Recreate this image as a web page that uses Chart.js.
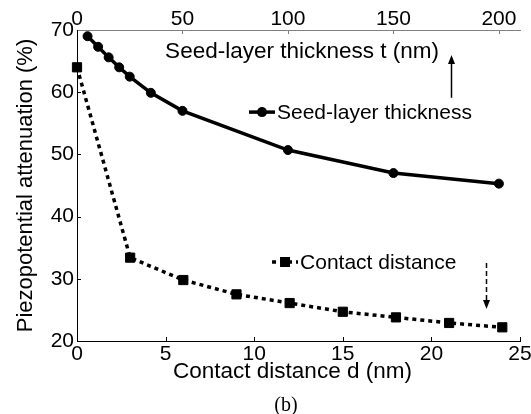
<!DOCTYPE html>
<html lang="en">
<head>
<meta charset="UTF-8">
<title>Piezopotential attenuation</title>
<script src="https://cdn.jsdelivr.net/npm/chart.js@4.4.1/dist/chart.umd.min.js"></script>
<style>
  html, body { margin: 0; padding: 0; background: #fff; }
  #chart { display: block; }
</style>
</head>
<body>
<canvas id="chart" width="531" height="414"></canvas>
<script>
// ---- data ----
var seedT = [5, 10, 15, 20, 25, 35, 50, 100, 150, 200];          // seed-layer thickness t (nm), top axis
var seedAtt = [69.0, 67.3, 65.6, 64.0, 62.5, 59.9, 57.0, 50.7, 47.0, 45.3];
var contactD = [0, 3, 6, 9, 12, 15, 18, 21, 24];                  // contact distance d (nm), bottom axis
var contactAtt = [64.0, 33.4, 29.8, 27.5, 26.1, 24.7, 23.8, 22.9, 22.2];

var bottomTicks = [0, 5, 10, 15, 20, 25];
var topTicks = [0, 50, 100, 150, 200];
var yTicks = [20, 30, 40, 50, 60, 70];

var FONT = 'Liberation Sans, Arial, sans-serif';

function pts(xs, ys) {
  return xs.map(function (x, i) { return { x: x, y: ys[i] }; });
}
function fixTicks(list) {
  return function (scale) { scale.ticks = list.map(function (v) { return { value: v }; }); };
}

// inward tick marks, legend entries, arrows and free text
var extras = {
  id: 'extras',
  afterDraw: function (chart) {
    var c = chart.ctx, a = chart.chartArea;
    var sx = chart.scales.x, sx2 = chart.scales.x2, sy = chart.scales.y;
    var px = function (d) { return sx.getPixelForValue(d); };
    var py = function (v) { return sy.getPixelForValue(v); };
    c.save();

    // ticks pointing into the plot
    c.lineWidth = 1;
    c.strokeStyle = '#000';
    c.beginPath();
    bottomTicks.slice(1).forEach(function (v) {
      var x = Math.round(px(v)) + 0.5;
      c.moveTo(x, a.bottom); c.lineTo(x, a.bottom - 4);
    });
    yTicks.slice(1, -1).forEach(function (v) {
      var y = Math.round(py(v)) + 0.5;
      c.moveTo(a.left, y); c.lineTo(a.left + 4, y);
    });
    c.stroke();
    c.strokeStyle = '#808080';
    c.beginPath();
    topTicks.slice(1).forEach(function (v) {
      var x = Math.round(sx2.getPixelForValue(v)) + 0.5;
      c.moveTo(x, a.top); c.lineTo(x, a.top + 4);
    });
    c.stroke();

    c.fillStyle = '#000';
    c.strokeStyle = '#000';
    c.textBaseline = 'middle';

    // axis titles (top one sits inside the plot)
    c.font = '22.5px ' + FONT;
    c.textAlign = 'center';
    c.fillText('Seed-layer thickness t (nm)', px(12.7), py(66.45));
    c.fillText('Contact distance d (nm)', px(12.16), a.bottom + 31);

    // legend: seed-layer thickness
    var lx = px(10.44), ly = py(56.8);
    c.lineWidth = 3.5;
    c.beginPath(); c.moveTo(lx - 13, ly); c.lineTo(lx + 13, ly); c.stroke();
    c.beginPath(); c.arc(lx, ly, 5, 0, Math.PI * 2); c.fill();
    c.font = '21px ' + FONT;
    c.textAlign = 'left';
    c.fillText('Seed-layer thickness', lx + 15, ly + 1);

    // legend: contact distance
    var kx = px(11.74), ky = py(32.7);
    c.setLineDash([4, 4]);
    c.beginPath(); c.moveTo(kx - 13, ky); c.lineTo(kx + 13, ky); c.stroke();
    c.setLineDash([]);
    c.fillRect(kx - 5, ky - 5, 10, 10);
    c.fillText('Contact distance', kx + 15, ky + 1);

    // solid arrow up to the top axis title
    var ax = Math.round(px(21.1)) + 0.5;
    c.lineWidth = 1.5;
    c.beginPath(); c.moveTo(ax, py(59.1)); c.lineTo(ax, py(66.0) + 6); c.stroke();
    c.beginPath();
    c.moveTo(ax, py(66.0)); c.lineTo(ax - 3.5, py(66.0) + 9); c.lineTo(ax + 3.5, py(66.0) + 9);
    c.closePath(); c.fill();

    // dashed arrow down to the bottom axis
    var bx = Math.round(px(23.08)) + 0.5;
    c.setLineDash([5, 3]);
    c.beginPath(); c.moveTo(bx, py(32.55)); c.lineTo(bx, py(25.15) - 6); c.stroke();
    c.setLineDash([]);
    c.beginPath();
    c.moveTo(bx, py(25.15)); c.lineTo(bx - 3.5, py(25.15) - 9); c.lineTo(bx + 3.5, py(25.15) - 9);
    c.closePath(); c.fill();

    // panel label
    c.font = '20px Liberation Serif, Times New Roman, serif';
    c.textAlign = 'center';
    c.fillText('(b)', a.left + 209, 406);

    c.restore();
  }
};

new Chart(document.getElementById('chart').getContext('2d'), {
  type: 'line',
  data: {
    datasets: [{
      label: 'Seed-layer thickness',
      data: pts(seedT, seedAtt),
      xAxisID: 'x2',
      yAxisID: 'y',
      borderColor: '#000',
      borderWidth: 3.5,
      pointStyle: 'circle',
      pointRadius: 4.5,
      pointBorderWidth: 1,
      pointBorderColor: '#000',
      pointBackgroundColor: '#000',
      tension: 0,
      clip: false
    }, {
      label: 'Contact distance',
      data: pts(contactD, contactAtt),
      xAxisID: 'x',
      yAxisID: 'y',
      borderColor: '#000',
      borderWidth: 3.5,
      borderDash: [4, 4],
      pointStyle: 'rect',
      pointRadius: 6.5,
      pointBorderWidth: 1,
      pointBorderColor: '#000',
      pointBackgroundColor: '#000',
      tension: 0,
      clip: false
    }]
  },
  options: {
    responsive: false,
    devicePixelRatio: 1,
    animation: false,
    layout: { padding: { left: 0, right: 11, top: 0, bottom: 0 } },
    plugins: { legend: { display: false }, tooltip: { enabled: false } },
    scales: {
      x: {
        type: 'linear', position: 'bottom', min: 0, max: 25,
        afterBuildTicks: fixTicks(bottomTicks),
        afterFit: function (s) { s.height = 73; s.paddingLeft = 0; s.paddingRight = 0; },
        grid: { display: false, drawTicks: false },
        border: { display: true, color: '#000', width: 1 },
        ticks: { color: '#000', font: { family: FONT, size: 21 }, padding: 1, maxRotation: 0, autoSkip: false }
      },
      x2: {
        type: 'linear', position: 'top', min: 0, max: 210,
        afterBuildTicks: fixTicks(topTicks),
        afterFit: function (s) { s.height = 30; s.paddingLeft = 0; s.paddingRight = 0; },
        grid: { display: false, drawTicks: false },
        border: { display: true, color: '#808080', width: 1 },
        ticks: { color: '#000', font: { family: FONT, size: 21 }, padding: -2, maxRotation: 0, autoSkip: false }
      },
      y: {
        type: 'linear', position: 'left', min: 20, max: 70,
        afterBuildTicks: fixTicks(yTicks),
        afterFit: function (s) { s.width = 77; s.paddingTop = 0; s.paddingBottom = 0; },
        grid: { display: false, drawTicks: false },
        border: { display: true, color: '#000', width: 1 },
        ticks: { color: '#000', font: { family: FONT, size: 21 }, padding: 3, autoSkip: false },
        title: { display: true, text: 'Piezopotential attenuation (%)', color: '#000',
                 font: { family: FONT, size: 22 }, padding: { top: 13, bottom: 0 } }
      }
    }
  },
  plugins: [extras]
});
</script>
</body>
</html>
